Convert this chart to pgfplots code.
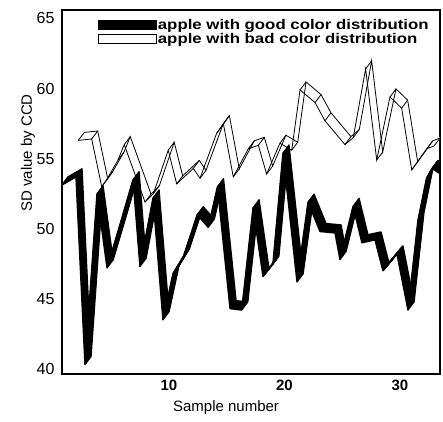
\documentclass[border=0pt]{standalone}
\usepackage{pgfplots}
\pgfplotsset{compat=1.18}
\usepackage{pgfplotstable}
\usepackage{fontspec}
\setmainfont{Liberation Sans}
\newfontfamily\legfont{Liberation Sans}[FakeStretch=1.2]

% good colour distribution (front ribbon)
\pgfplotstableread{
x y
0.70 53.1
1.95 53.7
2.73 40.3
3.77 52.5
4.64 47.2
5.76 50.3
6.89 53.5
7.49 47.3
8.62 52.2
9.48 43.5
10.35 46.8
11.24 48.0
12.45 51.0
13.40 50.1
14.20 53.0
15.29 44.3
16.30 44.2
17.28 51.5
18.14 46.6
19.00 47.5
19.87 55.4
21.09 46.2
22.04 51.9
23.08 49.8
24.38 49.7
24.81 47.8
25.94 51.6
26.71 49.0
27.84 49.2
28.53 47.0
29.74 48.2
30.70 44.2
31.56 50.6
32.30 53.6
32.78 54.3
33.70 53.8
}\good

% bad colour distribution (back ribbon)
\pgfplotstableread{
x y
2.15 56.3
3.31 56.4
4.18 53.0
4.61 53.5
5.59 54.9
6.13 56.0
7.93 51.9
8.65 52.5
9.94 55.6
10.67 53.2
12.11 54.3
12.69 53.6
14.13 56.8
14.71 57.5
15.57 53.7
16.87 55.7
17.74 55.95
18.46 53.9
19.61 56.1
20.63 55.6
21.35 59.9
22.65 59.0
23.51 57.7
25.24 56.0
25.96 56.5
27.03 61.4
27.99 54.9
29.14 59.4
30.15 58.6
31.02 54.2
32.32 55.7
32.95 55.9
}\bad

\begin{document}
\begin{tikzpicture}
\begin{axis}[
  name=ax,
  scale only axis,
  width=378pt, height=364pt,
  xmin=0.74, xmax=33.47,
  ymin=39.64, ymax=65.6,
  xtick={10,20,30},
  ytick={40,45,...,65},
  tick style={draw=none},
  axis line style={line width=1.1pt},
  no markers,
  /pgf/number format/assume math mode=true,
  xticklabel style={font=\fontsize{15}{17}\selectfont\bfseries, yshift=-3pt},
  yticklabel style={font=\fontsize{16}{18}\selectfont, anchor=east, xshift=-4pt},
  xlabel={Sample number},
  xlabel style={font=\fontsize{15}{17}\selectfont, at={(axis description cs:0.434,-0.093)}, anchor=center},
  legend style={at={(axis description cs:0.095,0.978)}, anchor=north west,
    draw=none, fill=none, font=\fontsize{14}{14}\selectfont\legfont\bfseries,
    row sep=0.5pt, inner sep=0pt, nodes={inner sep=1pt}},
  legend cell align=left,
]
\addlegendimage{legend image code/.code={\fill[black] (0pt,-4.5pt) rectangle (58pt,4.5pt);}}
\addlegendentry{apple with good color distribution}
\addlegendimage{legend image code/.code={\draw[black, line width=0.8pt, fill=white] (0pt,-4.5pt) rectangle (58pt,4.5pt);}}
\addlegendentry{apple with bad color distribution}

% back ribbon: white face, both edges and the depth edges
\pgfplotsinvokeforeach{0,...,10}{
  \addplot[white, line width=1.5pt, line join=round, forget plot]
    table[x expr=\thisrow{x}+#1*0.052, y expr=\thisrow{y}+#1*0.057] {\bad};
}
\addplot[black, line width=0.8pt, forget plot] table {\bad};
\addplot[black, line width=0.8pt, forget plot]
  table[x expr=\thisrow{x}+0.52, y expr=\thisrow{y}+0.57] {\bad};
\addplot[black, line width=0.8pt, -, forget plot, quiver={u=0.52, v=0.57}] table {\bad};

% front ribbon: solid black
\pgfplotsinvokeforeach{0,...,10}{
  \addplot[black, line width=1.4pt, line join=round, forget plot]
    table[x expr=\thisrow{x}+#1*0.052, y expr=\thisrow{y}+#1*0.057] {\good};
}
\end{axis}
% y axis title, set outside the clipped axis
\path (ax.south west) ++(-34pt,221pt)
  node[rotate=90, font=\fontsize{15}{17}\selectfont] {SD value by CCD};
\path (ax.south west) ++(-62pt,-48pt);
\path (ax.north east) ++(3pt,10pt);
\end{tikzpicture}
\end{document}
